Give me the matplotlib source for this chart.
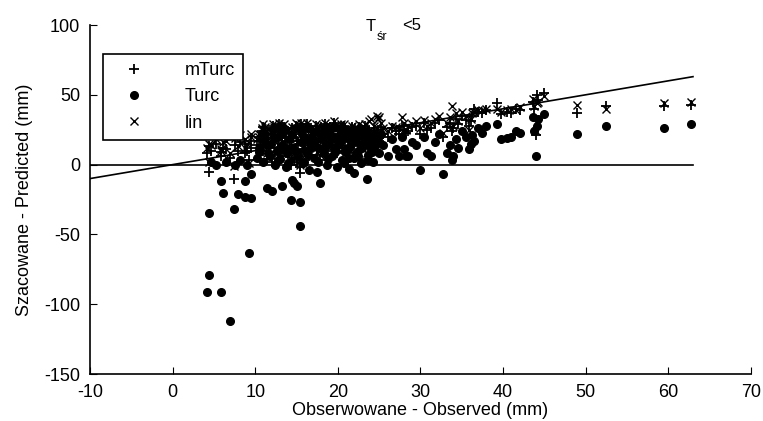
import numpy as np
import matplotlib.pyplot as plt

plt.rcParams['font.family'] = ['Liberation Sans', 'DejaVu Sans']
plt.rcParams['axes.unicode_minus'] = False

obs = [4.2, 4.4, 4.4, 4.6, 5.2, 5.9, 5.9, 6.1, 6.5, 7.0, 7.4, 7.5, 7.9, 8.2, 8.8, 8.8,
       9.0, 9.2, 9.5, 9.5,
       10.2, 10.5, 10.8, 11.0, 11.2, 11.4, 11.6, 11.9, 12.0, 12.2, 12.4, 12.6, 12.8,
       13.0, 13.2, 13.3, 13.5, 13.7, 13.9, 14.1, 14.3, 14.4, 14.6, 14.7, 14.9, 15.1,
       15.2, 15.4, 15.4, 15.5, 15.7, 15.9, 16.1, 16.3, 16.5, 16.7, 16.9, 17.1, 17.3,
       17.5, 17.7, 17.9, 18.1, 18.3, 18.5, 18.7, 18.9, 19.1, 19.3, 19.5, 19.7, 19.9,
       20.1, 20.3, 20.5, 20.7, 20.9, 21.1, 21.3, 21.5, 21.7, 21.9, 22.0, 22.2, 22.4,
       22.6, 22.8, 23.0, 23.2, 23.5, 23.6, 23.8, 24.0, 24.2, 24.4, 24.7, 25.0, 25.2,
       25.5,
       10.4, 10.9, 11.3, 11.8, 12.3, 12.7, 13.1, 13.6, 14.0, 14.5, 15.0, 15.6, 16.0,
       16.4, 16.8, 17.2, 17.6, 18.0, 18.4, 18.8, 19.2, 19.6, 20.0, 20.4, 20.8, 21.2,
       21.6, 22.1, 22.5, 22.9, 23.3, 23.7, 24.1, 24.5, 24.9, 12.9, 15.8, 18.6, 21.4,
       23.9,
       26.1, 26.5, 27.1, 27.4, 27.8, 28.0, 28.3, 28.5, 29.0, 29.5, 30.0, 30.4, 30.8,
       31.3, 31.8, 32.3, 32.7, 33.2, 33.6, 33.8, 34.0, 34.3, 34.6, 35.0, 35.5, 35.9,
       36.1, 36.3, 36.5, 37.0, 37.4, 38.0, 39.3, 39.8, 40.5, 41.0, 41.6, 42.0, 43.6,
       43.8, 44.0, 44.1, 44.2, 45.0, 49.0, 52.5, 59.5, 62.8]

turc = [-91, -79, -35, 2, 0, -91, -12, -20, 2, -112, -32, 0, -21, 3, -23, -12,
        0, -63, -24, -7,
        5, 12, 18, 2, 22, -17, 8, 15, -19, 25, 0, 10, 20,
        4, -15, 14, 24, -2, 8, 18, -25, -11, 12, -13, 26, -15,
        6, -27, -44, 16, 22, 2, 10, 26, -4, 14, 20, 5, 24,
        -5, 12, -13, 18, 8, 26, 0, 15, 22, 6, 27, 11, -2,
        20, 16, 3, 25, 9, 19, -3, 13, 23, 5, -6, 17, 10,
        24, 1, 15, 20, -10, 7, 18, 12, 2, 21, 16, 8, 22,
        14,
        9, 23, 15, 6, 19, 3, 22, 11, 1, 21, 9, 25, 18,
        7, 12, 17, 2, 22, 13, 4, 18, 9, 14, 23, 1, 11,
        17, 21, 6, 12, 24, 3, 9, 13, 19, 26, 1, 13, 5,
        16,
        6, 18, 11, 6, 20, 11, 6, 6, 16, 14, -4, 20, 8,
        6, 16, 22, -7, 8, 14, 3, 6, 18, 12, 24, 20, 11,
        15, 21, 17, 26, 23, 28, 29, 18, 19, 20, 24, 23, 34,
        24, 6, 28, 33, 36, 22, 28, 26, 29]

mturc = [8, 13, -5, 10, 15, 9, 6, 12, 11, 5, -10, 14, 10, 16, 15, 8,
         10, 3, 12, 17,
         14, 20, 24, 10, 26, 4, 16, 22, 2, 28, 9, 18, 24,
         12, 6, 20, 27, 8, 17, 23, 0, 5, 19, 3, 28, 2,
         14, -2, -6, 22, 27, 11, 18, 29, 6, 21, 25, 13, 28,
         7, 19, 3, 24, 16, 29, 10, 22, 27, 14, 30, 19, 8,
         26, 22, 12, 28, 17, 24, 8, 20, 27, 13, 5, 23, 18,
         27, 11, 22, 25, 4, 15, 24, 20, 12, 26, 23, 17, 27,
         22,
         17, 27, 22, 13, 25, 12, 27, 19, 10, 26, 17, 29, 24,
         15, 20, 23, 11, 27, 20, 13, 24, 17, 21, 28, 10, 19,
         23, 26, 14, 19, 28, 12, 17, 21, 25, 29, 9, 21, 13,
         22,
         20, 26, 24, 22, 28, 25, 23, 24, 27, 28, 22, 30, 25,
         26, 30, 32, 20, 27, 30, 24, 26, 33, 29, 35, 32, 28,
         31, 35, 40, 38, 37, 39, 44, 36, 38, 37, 40, 39, 45,
         40, 21, 50, 46, 51, 37, 42, 42, 43]

lin = [12, 15, 2, 14, 18, 11, 10, 16, 17, 8, -1, 19, 13, 21, 18, 12,
       15, 1, 20, 22,
       18, 22, 26, 13, 27, 8, 19, 24, 6, 29, 12, 21, 27,
       15, 9, 23, 29, 11, 19, 26, 4, 9, 22, 8, 30, 6,
       17, 3, 0, 25, 28, 14, 21, 30, 10, 23, 27, 16, 29,
       9, 22, 7, 26, 19, 30, 13, 24, 28, 18, 31, 21, 12,
       27, 25, 15, 29, 20, 26, 11, 23, 28, 16, 9, 25, 20,
       29, 13, 24, 27, 8, 18, 31, 33, 14, 28, 35, 34, 30,
       26,
       20, 29, 24, 16, 27, 14, 28, 21, 13, 27, 19, 30, 26,
       18, 22, 25, 14, 28, 23, 16, 26, 19, 23, 29, 12, 21,
       25, 27, 17, 22, 29, 15, 20, 24, 33, 30, 12, 23, 16,
       25,
       24, 28, 27, 26, 34, 30, 25, 28, 29, 31, 26, 32, 28,
       30, 33, 35, 23, 30, 34, 42, 28, 37, 31, 38, 35, 25,
       33, 37, 38, 39, 39, 40, 40, 38, 39, 40, 39, 41, 47,
       42, 24, 44, 45, 49, 43, 40, 44, 45]

fig = plt.figure(figsize=(7.63, 4.21), dpi=100)
ax = fig.add_axes([0.118, 0.1116, 0.866, 0.829])

ax.plot([-10, 63], [-10, 63], color='black', lw=1.2)
ax.plot([-10, 63], [0, 0], color='black', lw=1.2)

ax.plot(obs, mturc, '+', color='black', ms=7.5, mew=1.3, label='mTurc')
ax.plot(obs, turc, 'o', color='black', ms=5.5, label='Turc')
ax.plot(obs, lin, 'x', color='black', ms=6, mew=1.0, label='lin')

ax.set_xlim(-10, 70)
ax.set_ylim(-150, 100)
ax.set_xticks(np.arange(-10, 71, 10))
ax.set_yticks(np.arange(-150, 101, 50))
ax.spines['top'].set_visible(False)
ax.spines['right'].set_visible(False)
for s in ['left', 'bottom']:
    ax.spines[s].set_linewidth(1.2)
ax.tick_params(direction='in', length=5, labelsize=13)
ax.tick_params(axis='x', pad=7)
ax.tick_params(axis='y', pad=7)

ax.set_xlabel('Obserwowane - Observed (mm)', fontsize=13, labelpad=1)
ax.set_ylabel('Szacowane - Predicted (mm)', fontsize=13, labelpad=8)

# title T with subscript "śr"
fig.text(0.479, 0.938, 'T', fontsize=12, ha='left', va='center')
fig.text(0.494, 0.913, 'śr', fontsize=9, ha='left', va='center')
fig.text(0.527, 0.940, '<5', fontsize=12, ha='left', va='center')

leg = ax.legend(loc='upper left', bbox_to_anchor=(0.019, 0.916), fancybox=False,
                edgecolor='black', framealpha=1, fontsize=13, handlelength=2.6,
                handletextpad=1.5, borderpad=0.45, labelspacing=0.5,
                borderaxespad=0)
leg.get_frame().set_linewidth(1.2)

fig.savefig('out.png', dpi=100)
